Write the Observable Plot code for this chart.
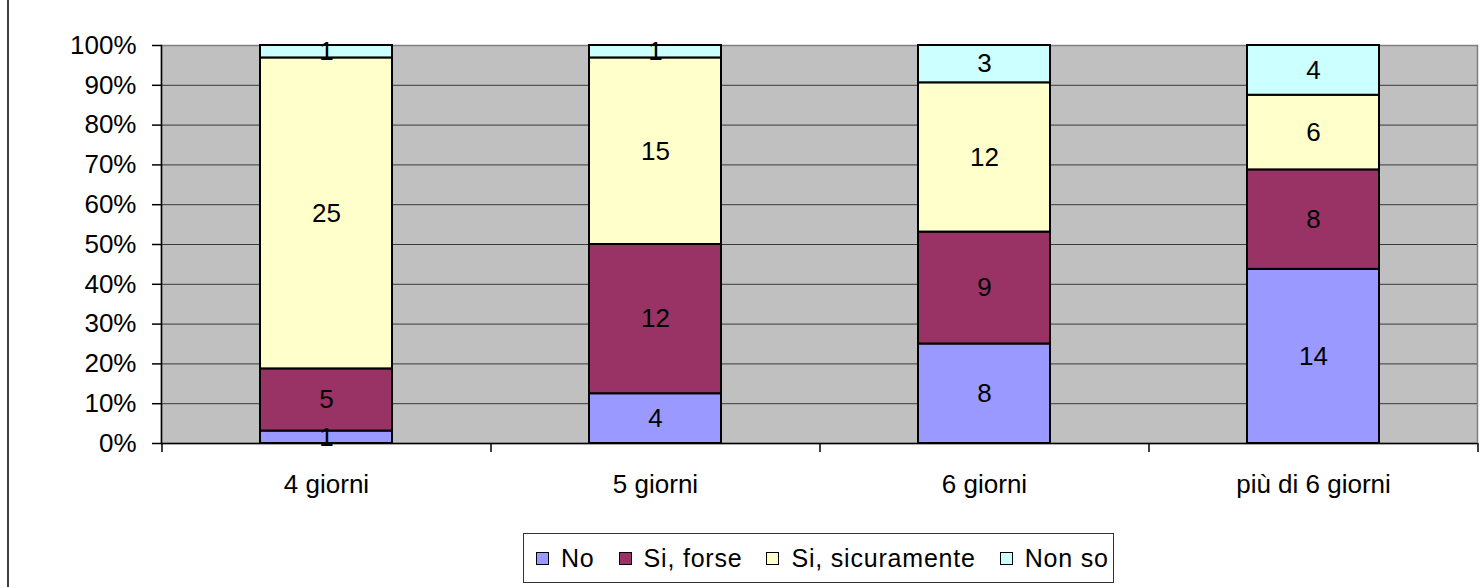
<!DOCTYPE html>
<html>
<head>
<meta charset="utf-8">
<script src="https://cdn.jsdelivr.net/npm/d3@7"></script>
<script src="https://cdn.jsdelivr.net/npm/@observablehq/plot@0.6"></script>
<style>
  body { margin: 0; background: #fff; font-family: "Liberation Sans", Arial, sans-serif; }
  #wrap { position: relative; width: 1484px; height: 587px; overflow: hidden; }
  #border { position: absolute; left: 7px; top: 0; width: 2px; height: 587px; background: #404040; }
  #legend { position: absolute; left: 523px; top: 533px; height: 48px; border: 1px solid #333;
    display: flex; align-items: center; padding: 0 4px 0 12px; white-space: nowrap; box-sizing: content-box; }
  .item { display: flex; align-items: center; margin-right: 24px; font-size: 25px; letter-spacing: 0.8px; color: #000; }
  .item:last-child { margin-right: 0; }
  .sw { width: 11px; height: 11px; border: 1.5px solid #000; margin-right: 12px; flex: none; }
</style>
</head>
<body>
<div id="wrap">
  <div id="chart"></div>
  <div id="border"></div>
  <div id="legend"></div>
</div>
<script>
const categories = ["4 giorni", "5 giorni", "6 giorni", "più di 6 giorni"];
const series = ["No", "Si, forse", "Si, sicuramente", "Non so"];
const no = [1, 4, 8, 14];
const siForse = [5, 12, 9, 8];
const siSicuramente = [25, 15, 12, 6];
const nonSo = [1, 1, 3, 4];
const colors = ["#9999FF", "#993366", "#FFFFCC", "#CCFFFF"];
const yTicks = [0, 0.1, 0.2, 0.3, 0.4, 0.5, 0.6, 0.7, 0.8, 0.9, 1];

const seriesValues = [no, siForse, siSicuramente, nonSo];
const data = series.flatMap((s, si) =>
  categories.map((c, ci) => ({category: c, series: s, value: seriesValues[si][ci]}))
);

const width = 1484, height = 520;
const marginLeft = 161, marginRight = 7, marginTop = 45, marginBottom = 77;
const step = (width - marginLeft - marginRight) / categories.length;

const chart = Plot.plot({
  width, height, marginLeft, marginRight, marginTop, marginBottom,
  style: {fontFamily: '"Liberation Sans", Arial, sans-serif', fontSize: "26px", color: "#000", background: "#fff"},
  x: {domain: categories, paddingInner: 0.6, paddingOuter: 0.3, label: null},
  y: {domain: [0, 1], label: null},
  color: {domain: series, range: colors},
  marks: [
    Plot.frame({fill: "#C0C0C0", stroke: "#808080", strokeWidth: 1.5}),
    Plot.ruleY(yTicks.filter(t => t > 0 && t < 1), {stroke: "#3a3a3a", strokeWidth: 1}),
    Plot.barY(data, Plot.stackY({
      offset: "normalize", x: "category", y: "value", z: "series",
      fill: "series", stroke: "#000", strokeWidth: 2
    })),
    Plot.textY(data, Plot.stackY({
      offset: "normalize", x: "category", y: "value", z: "series",
      text: d => String(d.value), fill: "#000", fontSize: 26
    })),
    Plot.ruleY([0], {stroke: "#000", strokeWidth: 1.5}),
    Plot.frame({anchor: "left", stroke: "#000", strokeWidth: 1.5}),
    Plot.ruleX(categories, {x: d => d, y1: 0, y2: 0, insetBottom: -9, dx: -step / 2, stroke: "#000", strokeWidth: 1.5}),
    Plot.ruleX(categories.slice(-1), {x: d => d, y1: 0, y2: 0, insetBottom: -9, dx: step / 2, stroke: "#000", strokeWidth: 1.5}),
    Plot.axisY({ticks: yTicks, tickFormat: d3.format(".0%"), tickSize: 9, tickPadding: 16, stroke: "#000", strokeWidth: 1.5}),
    Plot.axisX({tickSize: 0, tickPadding: 31})
  ]
});
document.getElementById("chart").appendChild(chart);

const legend = document.getElementById("legend");
series.forEach((s, i) => {
  const item = document.createElement("div");
  item.className = "item";
  const sw = document.createElement("span");
  sw.className = "sw";
  sw.style.background = colors[i];
  const label = document.createElement("span");
  label.textContent = s;
  item.appendChild(sw);
  item.appendChild(label);
  legend.appendChild(item);
});
</script>
</body>
</html>
